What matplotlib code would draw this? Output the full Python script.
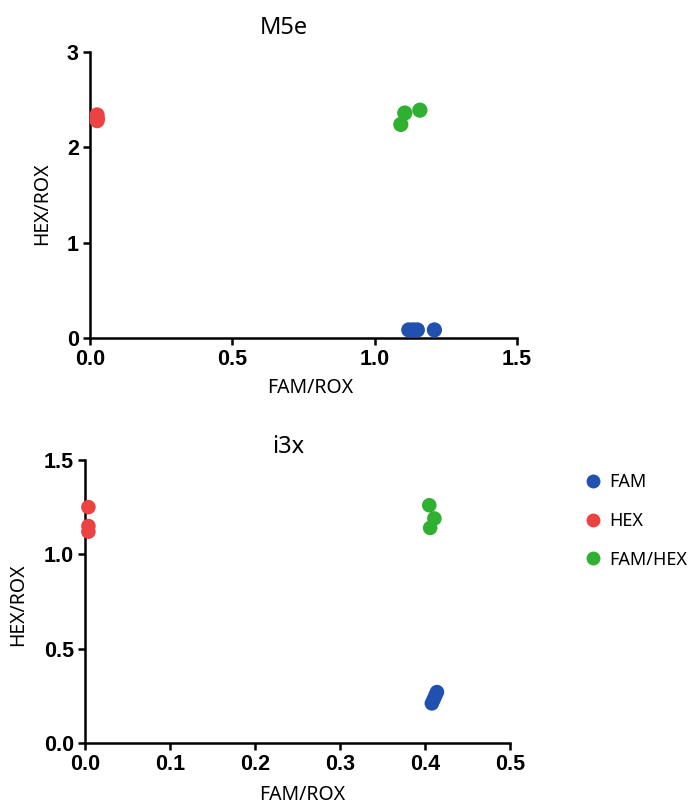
import matplotlib
matplotlib.use("Agg")
import matplotlib.pyplot as plt
from matplotlib.lines import Line2D

# M5e data
m5e_fam_x = [1.12, 1.135, 1.15, 1.21]
m5e_fam_y = [0.085, 0.085, 0.085, 0.085]
m5e_hex_x = [0.025, 0.026, 0.025]
m5e_hex_y = [2.34, 2.30, 2.28]
m5e_famhex_x = [1.106, 1.159, 1.092]
m5e_famhex_y = [2.36, 2.39, 2.24]

# i3x data
i3x_fam_x = [0.408, 0.410, 0.412, 0.414]
i3x_fam_y = [0.21, 0.23, 0.25, 0.27]
i3x_hex_x = [0.004, 0.004, 0.004]
i3x_hex_y = [1.25, 1.15, 1.12]
i3x_famhex_x = [0.405, 0.411, 0.406]
i3x_famhex_y = [1.26, 1.19, 1.14]

labels = ["FAM", "HEX", "FAM/HEX"]
colors = ["#2050b0", "#ec4242", "#30b030"]

label_font = "Noto Sans"
tick_font = "Liberation Sans"

fig = plt.figure(figsize=(6.9, 8.05), dpi=100)
ax1 = fig.add_axes([0.1304, 0.5801, 0.6188, 0.3553])
ax2 = fig.add_axes([0.1232, 0.0770, 0.6160, 0.3516])


def style(ax, xticks, yticks, xfmt, yfmt):
    for s in ["top", "right"]:
        ax.spines[s].set_visible(False)
    for s in ["left", "bottom"]:
        ax.spines[s].set_linewidth(1.8)
    ax.set_xlim(xticks[0], xticks[-1])
    ax.set_ylim(yticks[0], yticks[-1])
    ax.set_xticks(xticks)
    ax.set_yticks(yticks)
    ax.set_xticklabels([xfmt.format(v) for v in xticks])
    ax.set_yticklabels([yfmt.format(v) for v in yticks])
    ax.tick_params(width=1.8, length=5, pad=3)
    for t in ax.get_xticklabels() + ax.get_yticklabels():
        t.set_fontfamily(tick_font)
        t.set_fontweight("bold")
        t.set_fontsize(15.5)


series1 = [(m5e_fam_x, m5e_fam_y), (m5e_hex_x, m5e_hex_y), (m5e_famhex_x, m5e_famhex_y)]
for (xs, ys), c in zip(series1, colors):
    ax1.scatter(xs, ys, s=120, color=c, edgecolors="none", clip_on=False, zorder=3)
style(ax1, [0, 0.5, 1.0, 1.5], [0, 1, 2, 3], "{:.1f}", "{:.0f}")

series2 = [(i3x_fam_x, i3x_fam_y), (i3x_hex_x, i3x_hex_y), (i3x_famhex_x, i3x_famhex_y)]
for (xs, ys), c in zip(series2, colors):
    ax2.scatter(xs, ys, s=110, color=c, edgecolors="none", clip_on=False, zorder=3)
style(ax2, [0, 0.1, 0.2, 0.3, 0.4, 0.5], [0, 0.5, 1.0, 1.5], "{:.1f}", "{:.1f}")

# titles and axis labels
fig.text(284 / 690, 1 - 28 / 805, "M5e", ha="center", va="center", fontsize=17, family=label_font)
fig.text(288 / 690, 1 - 447 / 805, "i3x", ha="center", va="center", fontsize=17, family=label_font)
fig.text(310 / 690, 1 - 388 / 805, "FAM/ROX", ha="center", va="center", fontsize=14, family=label_font)
fig.text(302 / 690, 1 - 795 / 805, "FAM/ROX", ha="center", va="center", fontsize=14, family=label_font)
fig.text(42 / 690, 1 - 204 / 805, "HEX/ROX", ha="center", va="center", rotation=90, fontsize=14, family=label_font)
fig.text(18 / 690, 1 - 605 / 805, "HEX/ROX", ha="center", va="center", rotation=90, fontsize=14, family=label_font)

handles = [Line2D([], [], marker="o", linestyle="none", markersize=10, color=c, markeredgewidth=0) for c in colors]
leg = fig.legend(handles, labels, loc="upper left", bbox_to_anchor=(575 / 690, 1 - 466 / 805),
                 frameon=False, prop={"family": label_font, "size": 13},
                 handletextpad=0.3, labelspacing=1.15, handlelength=1.2, borderaxespad=0)

fig.savefig("out.png", dpi=100)
